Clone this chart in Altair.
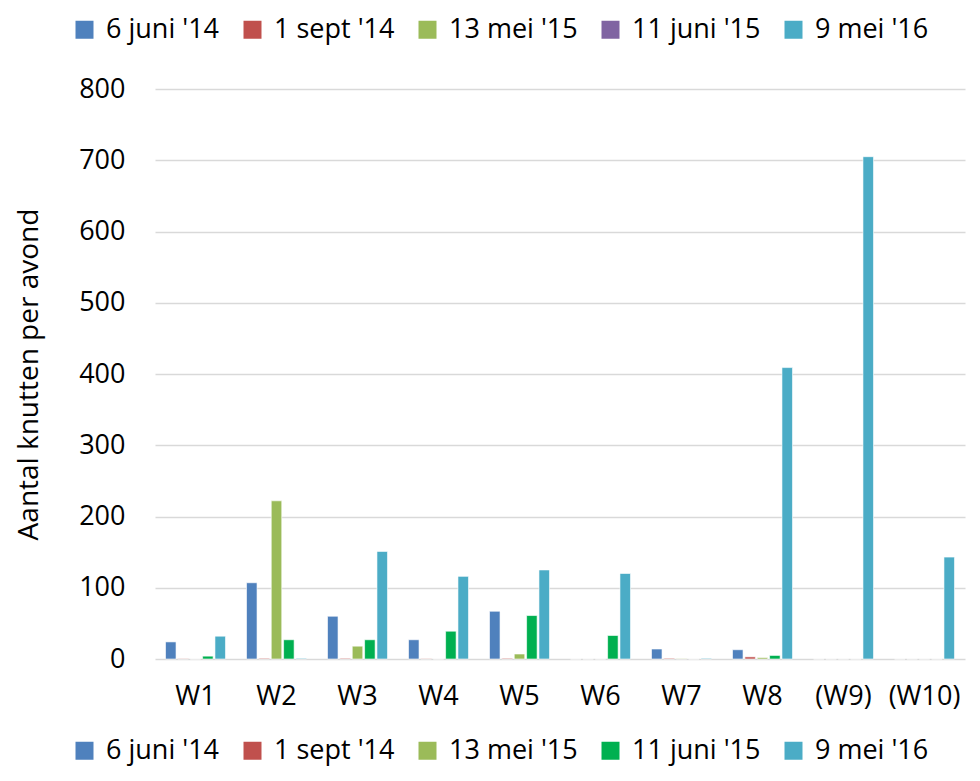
import altair as alt
import pandas as pd

categories = ["W1", "W2", "W3", "W4", "W5", "W6", "W7", "W8", "(W9)", "(W10)"]
series = ["6 juni '14", "1 sept '14", "13 mei '15", "11 juni '15", "9 mei '16"]
v_6jun14 = [24, 107, 60, 27, 67, 0, 14, 13, 0, 0]
v_1sep14 = [0.5, 1, 1, 0.5, 1, 0, 1, 3, 0, 0]
v_13mei15 = [0, 222, 18, 0, 7, 0, 0.5, 2, 0, 0]
v_11jun15 = [4, 27, 27, 39, 61, 33, 0, 5, 0, 0]
v_9mei16 = [32, 1, 151, 116, 125, 120, 1, 409, 705, 143]

colors_bottom = ["#4F81BD", "#C0504D", "#9BBB59", "#00B050", "#4BACC6"]
colors_top = ["#4F81BD", "#C0504D", "#9BBB59", "#8064A2", "#4BACC6"]

rows = []
for s, vals in zip(series, [v_6jun14, v_1sep14, v_13mei15, v_11jun15, v_9mei16]):
    for c, v in zip(categories, vals):
        rows.append({"cat": c, "series": s, "value": v})
df = pd.DataFrame(rows)

FONT = "Open Sans"

x_enc = alt.X("cat:N", sort=categories, title=None,
              scale=alt.Scale(paddingInner=0.26, paddingOuter=0.13),
              axis=alt.Axis(labelAngle=0, labelFontSize=27, labelColor="#000", ticks=False,
                            domain=False, grid=False, labelPadding=24, labelFont=FONT))
xo_enc = alt.XOffset("series:N", sort=series, scale=alt.Scale(paddingInner=0.15))
y_enc = alt.Y("value:Q", scale=alt.Scale(domain=[0, 800]),
              axis=alt.Axis(values=[0, 100, 200, 300, 400, 500, 600, 700, 800],
                            labelFontSize=27, labelColor="#000", labelFont=FONT,
                            ticks=False, domain=False, labelPadding=30,
                            gridColor="#D9D9D9", gridWidth=1.5,
                            title="Aantal knutten per avond", titleFontSize=28,
                            titleFont=FONT, titleFontWeight="normal", titleColor="#000",
                            titleX=-126, titleY=285, titleAngle=-90,
                            titleBaseline="middle", titleAlign="center"))

legend_common = dict(direction="horizontal", orient="none", symbolType="square",
                     symbolSize=324, labelFontSize=27, labelFont=FONT, labelColor="#000",
                     columnPadding=19, symbolStrokeWidth=0, title=None, labelOffset=8,
                     labelLimit=300)

bars = alt.Chart(df).mark_bar(stroke="white", strokeWidth=0.6).encode(
    x=x_enc, xOffset=xo_enc, y=y_enc,
    color=alt.Color("series:N", sort=series,
                    scale=alt.Scale(domain=series, range=colors_bottom),
                    legend=alt.Legend(legendX=-84, legendY=648, **legend_common)),
)

ghost = alt.Chart(df).mark_square(size=0, opacity=0).encode(
    x=x_enc, xOffset=xo_enc, y=y_enc,
    fill=alt.Fill("series:N", sort=series,
                  scale=alt.Scale(domain=series, range=colors_top),
                  legend=alt.Legend(legendX=-84, legendY=-73, symbolOpacity=1, **legend_common)),
)

chart = (
    alt.layer(bars, ghost)
    .resolve_scale(fill="independent", color="independent")
    .properties(
        width=810, height=570,
        autosize=alt.AutoSizeParams(type="none"),
        padding={"left": 147, "top": 81, "right": 7, "bottom": 114},
    )
    .configure(font=FONT)
    .configure_view(strokeWidth=0, stroke="transparent")
)

chart.save("out.html", embed_options={"renderer": "svg", "actions": False})
